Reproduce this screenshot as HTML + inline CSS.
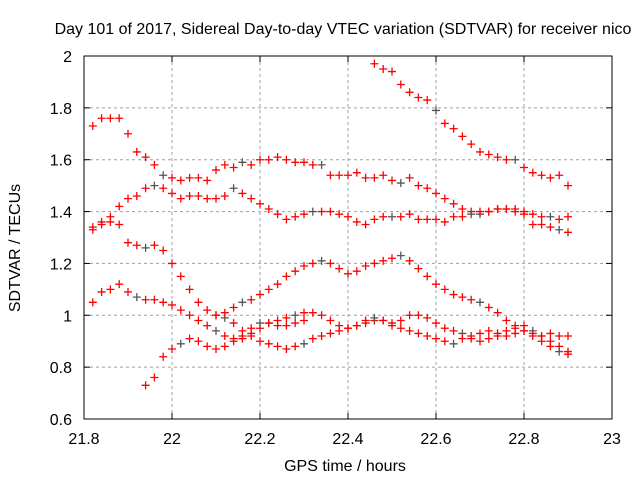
<!DOCTYPE html>
<html><head><meta charset="utf-8"><style>
body{margin:0;background:#fff}
svg{display:block;font-family:"Liberation Sans",sans-serif}
</style></head><body>
<svg id="chart" width="640" height="480" viewBox="0 0 640 480">
<rect width="640" height="480" fill="#fff"/>
<text x="343" y="34" text-anchor="middle" font-size="16">Day 101 of 2017, Sidereal Day-to-day VTEC variation (SDTVAR) for receiver nico</text>
<g id="grid"></g>
<g id="marks"></g>
<rect x="84" y="56" width="528" height="363" fill="none" stroke="#000" stroke-width="1"/>
<g id="ticks"></g>
<text transform="translate(20,248) rotate(-90)" text-anchor="middle" font-size="16">SDTVAR / TECUs</text>
<text x="345" y="471" text-anchor="middle" font-size="16">GPS time / hours</text>
</svg>
<script>
const xTicks=[21.8,22,22.2,22.4,22.6,22.8,23];
const xTickLabels=["21.8","22","22.2","22.4","22.6","22.8","23"];
const yTicks=[0.6,0.8,1,1.2,1.4,1.6,1.8,2];
const yTickLabels=["0.6","0.8","1","1.2","1.4","1.6","1.8","2"];
const step=0.02;
const trackA=[1.73,1.76,1.76,1.76,1.70,1.63,1.61,1.58,1.54,1.53,1.52,1.53,1.53,1.52,1.56,1.58,1.57,1.59,1.58,1.60,1.60,1.61,1.60,1.59,1.59,1.58,1.58];
const trackA2=[1.54,1.54,1.54,1.55,1.53,1.53,1.54,1.52,1.51,1.53,1.50,1.49,1.47,1.45,1.43,1.41,1.40,1.39,1.40,1.41,1.41,1.40,1.39,1.35,1.35,1.34,1.33,1.32];
const trackB=[1.33,1.36,1.38,1.42,1.45,1.46,1.49,1.50,1.49,1.47,1.45,1.46,1.46,1.45,1.45,1.46,1.49,1.47,1.45,1.43,1.41,1.39,1.37,1.38,1.39,1.40,1.40];
const trackB2=[1.40,1.39,1.38,1.36,1.35,1.37,1.38,1.38,1.38,1.39,1.37,1.37,1.37,1.36,1.38,1.38,1.39,1.40,1.40,1.41,1.41,1.41,1.40,1.39,1.38,1.38,1.37,1.38];
const trackC=[1.34,1.35,1.36,1.35,1.28,1.27,1.26,1.27,1.25,1.20,1.15,1.10,1.05,1.02,1.00,0.99,0.97,0.94,0.92,0.90,0.89,0.88,0.87,0.88,0.89,0.91,0.92,0.93,0.94,0.95,0.96,0.97,0.98,0.98,0.97,0.98,1.00,1.00,0.99,0.97,0.95,0.94,0.93,0.91,0.90,0.91,0.92,0.92,0.93,0.94,0.93,0.92,0.93,0.92,0.92];
const trackD=[1.05,1.09,1.10,1.12,1.09,1.07,1.06,1.06,1.05,1.04,1.02,1.00,0.98,0.96,0.94,0.92,0.91,0.91,0.93,0.95,0.97,0.98,0.99,1.00,1.01,1.01,1.00];
const trackD2=[0.98,0.96,0.95,0.96,0.98,0.99,0.98,0.96,0.95,0.94,0.93,0.92,0.91,0.90,0.89,0.91,0.92,0.93,0.94,0.93,0.94,0.95,0.96,0.94,0.92,0.90,0.88,0.86];
const trackE=[0.73,0.76,0.84,0.87,0.89,0.91,0.90,0.88,0.87,0.88,0.90,0.92,0.95,0.97,0.97,0.96,0.96,0.97,0.98];
const trackF=[1.00,1.01,1.03,1.05,1.06,1.08,1.10,1.12,1.15,1.17,1.19,1.20,1.21,1.20,1.18,1.16,1.17,1.19,1.20,1.21,1.22,1.23,1.21,1.18,1.15,1.12,1.10,1.08,1.07,1.06,1.05,1.03,1.01,0.98,0.96,0.94,0.92,0.90,0.88,0.86,0.85];
const trackG=[1.97,1.95,1.94,1.89,1.86,1.84,1.83,1.79,1.74,1.72,1.69,1.66,1.63,1.62,1.61,1.60,1.60,1.57,1.55,1.54,1.53,1.54,1.50];
const tracks=[[21.82,trackA],[22.36,trackA2],[21.82,trackB],[22.36,trackB2],[21.82,trackC],[21.82,trackD],[22.36,trackD2],[21.94,trackE],[22.10,trackF],[22.46,trackG]];

const X0=84,X1=612,Y0=419,Y1=56;
const sx=v=>X0+(v-21.8)/(23-21.8)*(X1-X0);
const sy=v=>Y0-(v-0.6)/(2-0.6)*(Y0-Y1);
const NS="http://www.w3.org/2000/svg";
const grid=document.getElementById('grid'),ticks=document.getElementById('ticks'),marks=document.getElementById('marks');
function mk(tag,attrs,parent){const e=document.createElementNS(NS,tag);for(const k in attrs)e.setAttribute(k,attrs[k]);parent.appendChild(e);return e;}
xTicks.forEach((t,i)=>{
  const x=sx(t);
  if(i>0&&i<xTicks.length-1){const g=mk('line',{x1:x,x2:x,y1:Y1,y2:Y0,stroke:'#a0a0a0','stroke-dasharray':'3,3'},grid);
  
  }
  const a=mk('line',{x1:x,x2:x,y1:Y0,y2:Y0-6,stroke:'#000'},ticks);
  
  
  const b=mk('line',{x1:x,x2:x,y1:Y1,y2:Y1+6,stroke:'#000'},ticks);
  
  
  const l=mk('text',{x:x,y:444,'text-anchor':'middle','font-size':'16'},ticks);l.textContent=xTickLabels[i];
  
  
});
yTicks.forEach((t,i)=>{
  const y=sy(t);
  if(i>0&&i<yTicks.length-1){const g=mk('line',{x1:X0,x2:X1,y1:y,y2:y,stroke:'#a0a0a0','stroke-dasharray':'3,3'},grid);
  
  }
  const a=mk('line',{x1:X0,x2:X0+6,y1:y,y2:y,stroke:'#000'},ticks);
  
  
  const b=mk('line',{x1:X1,x2:X1-6,y1:y,y2:y,stroke:'#000'},ticks);
  
  
  const l=mk('text',{x:X0-12,y:y+6,'text-anchor':'end','font-size':'16'},ticks);l.textContent=yTickLabels[i];
  
  
});
let n=0;
tracks.forEach(([start,vals])=>{
  vals.forEach((v,i)=>{
    const x=sx(start+i*step),y=sy(v);n++;
    const col=(n%9===0)?'#555':'#f00';
    const p=mk('path',{d:`M${x-4},${y}h8M${x},${y-4}v8`,stroke:col,'stroke-width':'1.3',fill:'none'},marks);
    
    
  });
});
</script>
</body></html>
